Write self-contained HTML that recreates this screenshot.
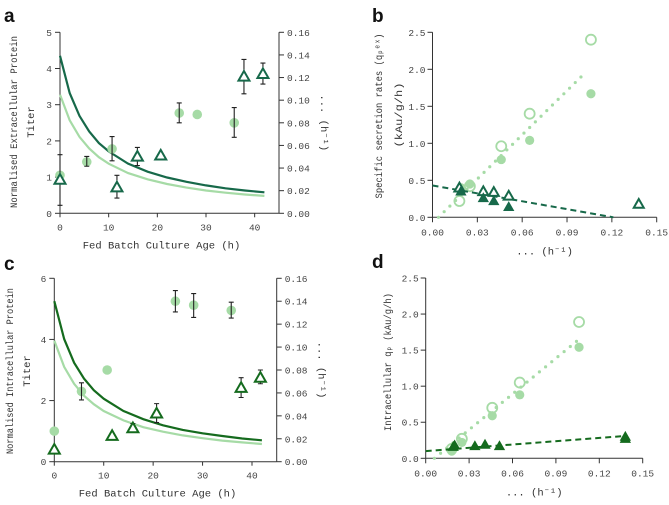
<!DOCTYPE html>
<html><head><meta charset="utf-8"><style>
body{margin:0;background:#fff;}
svg{display:block;font-family:"Liberation Mono",monospace;}
.tk{font-size:9.5px;fill:#444;}
.tt{font-size:10.5px;fill:#333;}
.pl{font-family:"Liberation Sans",sans-serif;font-weight:bold;font-size:19px;fill:#111;}
</style></head><body>
<svg id="fig" width="669" height="505" viewBox="0 0 669 505" xmlns="http://www.w3.org/2000/svg"></svg>
<script>
// ---- Panel a data ----
const aCircX=[0,5.5,10.7,24.5,28.2,35.8];
const aCircY=[1.05,1.42,1.78,2.77,2.73,2.5];
const aCircLo=[null,1.3,1.45,2.5,null,2.1];
const aCircHi=[null,1.57,2.12,3.05,null,2.92];
const aTriX=[0,11.7,15.9,20.7,37.8,41.7];
const aTriY=[0.93,0.72,1.57,1.6,3.78,3.85];
const aTriLo=[0.22,0.42,1.32,null,3.3,3.57];
const aTriHi=[1.62,1.05,1.82,null,4.25,4.15];
const curveT=[0,2,4,6,8,10,14,18,22,26,30,34,38,42];
const aDarkCurve=[4.35,3.32,2.69,2.26,1.94,1.71,1.37,1.15,0.99,0.87,0.77,0.69,0.63,0.58];
const aLightCurve=[3.28,2.57,2.11,1.79,1.55,1.37,1.11,0.94,0.81,0.71,0.63,0.57,0.52,0.48];
const aYTicks=[0,1,2,3,4,5];
const ageTicks=[0,10,20,30,40];
const muTicks=["0.00","0.02","0.04","0.06","0.08","0.10","0.12","0.14","0.16"];
// ---- Panel c data ----
const cCircX=[0,5.5,10.7,24.5,28.2,35.8];
const cCircY=[1.0,2.3,3.0,5.25,5.12,4.95];
const cCircLo=[null,2.02,null,4.9,4.72,4.7];
const cCircHi=[null,2.58,null,5.6,5.5,5.22];
const cTriX=[0,11.7,15.9,20.7,37.8,41.7];
const cTriY=[0.4,0.85,1.1,1.58,2.42,2.75];
const cTriLo=[null,null,0.98,1.28,2.1,2.55];
const cTriHi=[null,null,1.25,1.9,2.75,3.0];
const cDarkCurve=[5.25,4.01,3.24,2.72,2.34,2.06,1.66,1.39,1.19,1.04,0.93,0.84,0.76,0.70];
const cLightCurve=[3.96,3.10,2.55,2.16,1.88,1.66,1.35,1.13,0.98,0.86,0.77,0.69,0.63,0.58];
const cYTicks=[0,2,4,6];
// ---- Panel b data ----
const bOpenCircX=[0.018,0.025,0.046,0.065,0.106];
const bOpenCircY=[0.22,0.42,0.96,1.40,2.40];
const bFillCircX=[0.019,0.025,0.046,0.065,0.106];
const bFillCircY=[0.40,0.45,0.78,1.04,1.67];
const bOpenTriX=[0.018,0.034,0.041,0.051,0.138];
const bOpenTriY=[0.40,0.35,0.34,0.29,0.18];
const bFillTriX=[0.019,0.034,0.041,0.051];
const bFillTriY=[0.35,0.26,0.22,0.14];
const bDotLineX=[0.004,0.101];
const bDotLineY=[0.0,1.93];
const bDashX=[0,0.121];
const bDashY=[0.43,0];
// ---- Panel d data ----
const dOpenCircX=[0.018,0.025,0.046,0.065,0.106];
const dOpenCircY=[0.13,0.27,0.70,1.05,1.89];
const dFillCircX=[0.018,0.025,0.046,0.065,0.106];
const dFillCircY=[0.10,0.22,0.59,0.88,1.54];
const dFillTriX=[0.019,0.020,0.034,0.041,0.051,0.138,0.138];
const dFillTriY=[0.16,0.18,0.17,0.19,0.17,0.30,0.27];
const dDotLineX=[0.006,0.106];
const dDotLineY=[0.0,1.65];
const dDashX=[0,0.138];
const dDashY=[0.1,0.31];
const rateYTicks=["0.0","0.5","1.0","1.5","2.0","2.5"];
const muXTicks=["0.00","0.03","0.06","0.09","0.12","0.15"];

const NS="http://www.w3.org/2000/svg";
const svg=document.getElementById('fig');
const LIGHT="#a6dba6", DARKA="#17694a", DARKC="#156b1e";
function el(tag,attrs,parent,txt){const e=document.createElementNS(NS,tag);for(const k in attrs)e.setAttribute(k,attrs[k]);if(txt!==undefined)e.textContent=txt;(parent||svg).appendChild(e);return e;}
function lin(d0,d1,r0,r1){return v=>r0+(v-d0)/(d1-d0)*(r1-r0);}

function circle(g,x,y,fill,open,r){const c=el('circle',{cx:x,cy:y,r:r||4.6,fill:open?'none':fill,stroke:open?fill:'none','stroke-width':1.8},g);}
function tri(g,x,y,col,open,s){s=s||5.2;const p=el('polygon',{points:`${x},${y-s} ${x-s},${y+s*0.75} ${x+s},${y+s*0.75}`,fill:open?'#fff':col,stroke:col,'stroke-width':open?2:1,'stroke-linejoin':'miter'},g);}
function ebar(g,x,y1,y2){if(y1==null)return;el('path',{d:`M${x},${y1}V${y2}M${x-2.5},${y1}h5M${x-2.5},${y2}h5`,stroke:'#222','stroke-width':1.1,fill:'none'},g);}

function agePanel(o){
  const g=el('g',{});
  const X=lin(0,45,o.x0,o.x1), Y=lin(0,o.ymax,o.y0,o.y1), R=lin(0,0.16,o.y0,o.y1);
  el('line',{x1:o.x0,y1:o.y0,x2:o.x0,y2:o.y1,stroke:'#333','stroke-width':1},g);
  el('line',{x1:o.x0,y1:o.y0,x2:o.x1,y2:o.y0,stroke:'#333','stroke-width':1},g);
  el('line',{x1:o.x1,y1:o.y0,x2:o.x1,y2:o.y1,stroke:'#333','stroke-width':1},g);
  o.yt.forEach(v=>{const y=Y(v);el('line',{x1:o.x0-5,y1:y,x2:o.x0,y2:y,stroke:'#333'},g);el('text',{x:o.x0-8,y:y+3.5,'text-anchor':'end',class:'tk'},g,String(v));});
  ageTicks.forEach(v=>{const x=X(v);el('line',{x1:x,y1:o.y0,x2:x,y2:o.y0+4,stroke:'#333'},g);el('text',{x:x,y:o.y0+17,'text-anchor':'middle',class:'tk'},g,String(v));});
  muTicks.forEach(v=>{const y=R(parseFloat(v));el('line',{x1:o.x1,y1:y,x2:o.x1+5,y2:y,stroke:'#333'},g);el('text',{x:o.x1+8,y:y+3.5,class:'tk'},g,v);});
  const path=arr=>curveT.map((t,i)=>(i?'L':'M')+X(t).toFixed(1)+','+Y(arr[i]).toFixed(1)).join('');
  const lc=el('path',{d:path(o.light),fill:'none',stroke:LIGHT,'stroke-width':2.2},g);
  const dc=el('path',{d:path(o.dark),fill:'none',stroke:o.darkCol,'stroke-width':2.2},g);
  o.cx.forEach((x,i)=>circle(g,X(x),Y(o.cy[i]),LIGHT,false,4.8));
  o.cx.forEach((x,i)=>ebar(g,X(x),o.clo[i]==null?null:Y(o.clo[i]),Y(o.chi[i]??0)));
  o.tx.forEach((x,i)=>ebar(g,X(x),o.tlo[i]==null?null:Y(o.tlo[i]),Y(o.thi[i]??0)));
  o.tx.forEach((x,i)=>tri(g,X(x),Y(o.ty[i]),o.darkCol,true,5.5));
  const xt=el('text',{x:(o.x0+o.x1)/2-8,y:o.y0+35,'text-anchor':'middle',class:'tt'},g,'Fed Batch Culture Age (h)');
  const yt=el('text',{transform:`translate(${o.ylx},${o.ycy}) rotate(-90)`,'text-anchor':'middle',class:'tt',textLength:o.ylen,lengthAdjust:'spacingAndGlyphs'},g,o.ytitle);
  el('text',{transform:`translate(${o.ylx+17},${o.ycy}) rotate(-90)`,'text-anchor':'middle',class:'tt'},g,'Titer');
  const cy=(o.y0+o.y1)/2;
  const rt=el('text',{transform:`translate(${o.x1+42},${cy}) rotate(90)`,'text-anchor':'middle',class:'tt'},g,'... (h⁻¹)');
  const pl=el('text',{x:4,y:o.labY,class:'pl'},g,o.label);
}
agePanel({name:'panel-a',x0:60,x1:279,y0:213.3,y1:32.3,ymax:5,yt:aYTicks,light:aLightCurve,dark:aDarkCurve,darkCol:DARKA,
 cx:aCircX,cy:aCircY,clo:aCircLo,chi:aCircHi,tx:aTriX,ty:aTriY,tlo:aTriLo,thi:aTriHi,ytitle:'Normalised Extracellular Protein',ylx:17,ycy:122,ylen:172,label:'a',labY:22});
agePanel({name:'panel-c',x0:54.3,x1:276.7,y0:461.7,y1:278.3,ymax:6,yt:cYTicks,light:cLightCurve,dark:cDarkCurve,darkCol:DARKC,
 cx:cCircX,cy:cCircY,clo:cCircLo,chi:cCircHi,tx:cTriX,ty:cTriY,tlo:cTriLo,thi:cTriHi,ytitle:'Normalised Intracellular Protein',ylx:13,ycy:371,ylen:166,label:'c',labY:270});

function ratePanel(o){
  const g=el('g',{});
  const X=lin(0,0.15,o.x0,o.x1), Y=lin(0,2.5,o.y0,o.y1);
  el('line',{x1:o.x0,y1:o.y0,x2:o.x0,y2:o.y1,stroke:'#333'},g);
  el('line',{x1:o.x0,y1:o.y0,x2:o.x1,y2:o.y0,stroke:'#333'},g);
  rateYTicks.forEach(v=>{const y=Y(parseFloat(v));el('line',{x1:o.x0-5,y1:y,x2:o.x0,y2:y,stroke:'#333'},g);el('text',{x:o.x0-7,y:y+3.5,'text-anchor':'end',class:'tk'},g,v);});
  muXTicks.forEach(v=>{const x=X(parseFloat(v));el('line',{x1:x,y1:o.y0,x2:x,y2:o.y0+5,stroke:'#333'},g);el('text',{x:x,y:o.y0+18,'text-anchor':'middle',class:'tk'},g,v);});
  const dl=el('line',{x1:X(o.dotX[0]),y1:Y(o.dotY[0]),x2:X(o.dotX[1]),y2:Y(o.dotY[1]),stroke:LIGHT,'stroke-width':3.2,'stroke-linecap':'round','stroke-dasharray':'0 8'},g);
  o.fcx.forEach((x,i)=>circle(g,X(x),Y(o.fcy[i]),LIGHT,false,4.6));
  o.ocx.forEach((x,i)=>circle(g,X(x),Y(o.ocy[i]),LIGHT,true,5));
  const dd=el('line',{x1:X(o.dashX[0]),y1:Y(o.dashY[0]),x2:X(o.dashX[1]),y2:Y(o.dashY[1]),stroke:o.darkCol,'stroke-width':2,'stroke-dasharray':'6 4'},g);
  if(o.otx)o.otx.forEach((x,i)=>tri(g,X(x),Y(o.oty[i]),o.darkCol,true,5));
  o.ftx.forEach((x,i)=>tri(g,X(x),Y(o.fty[i]),o.darkCol,false,4.8));
  const xt=el('text',{x:(o.x0+o.x1)/2,y:o.y0+37,'text-anchor':'middle',class:'tt'},g,'... (h⁻¹)');
  o.ytitles.forEach((t,i)=>{const yt=el('text',{transform:`translate(${o.ylx+i*o.gap},${o.ycy[i]}) rotate(-90)`,'text-anchor':'middle',class:'tt',textLength:o.ylen[i],lengthAdjust:'spacingAndGlyphs'},g,t);});
  const pl=el('text',{x:o.labX,y:o.labY,class:'pl'},g,o.label);
}
ratePanel({name:'panel-b',x0:432.5,x1:656.7,y0:217.3,y1:32.3,dotX:bDotLineX,dotY:bDotLineY,fcx:bFillCircX,fcy:bFillCircY,ocx:bOpenCircX,ocy:bOpenCircY,
 dashX:bDashX,dashY:bDashY,darkCol:DARKA,otx:bOpenTriX,oty:bOpenTriY,ftx:bFillTriX,fty:bFillTriY,ytitles:['Specific secretion rates (qₚᵉˣ)','(kAu/g/h)'],ylx:382,gap:20,ycy:[116,115],ylen:[165,65],label:'b',labX:372,labY:22});
ratePanel({name:'panel-d',x0:425.7,x1:642.7,y0:458.3,y1:278,dotX:dDotLineX,dotY:dDotLineY,fcx:dFillCircX,fcy:dFillCircY,ocx:dOpenCircX,ocy:dOpenCircY,
 dashX:dDashX,dashY:dDashY,darkCol:DARKC,ftx:dFillTriX,fty:dFillTriY,ytitles:['Intracellular qₚ (kAu/g/h)'],ylx:391,gap:0,ycy:[362],ylen:[138],label:'d',labX:372,labY:268});
</script>
</body></html>
